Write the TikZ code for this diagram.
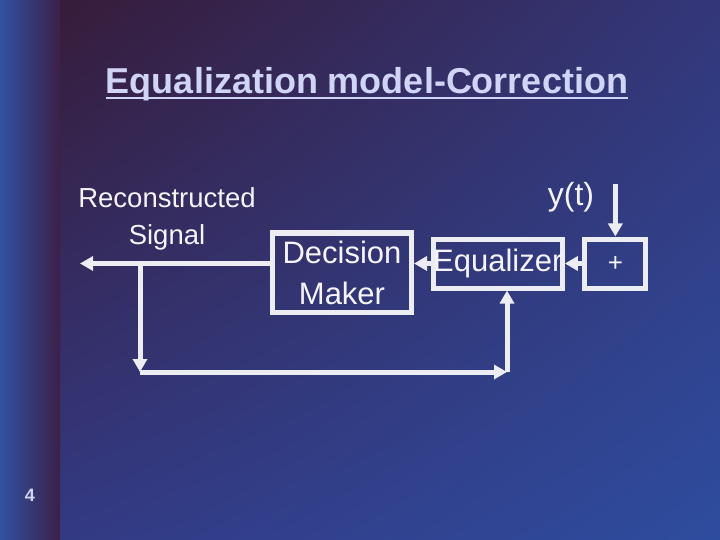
\documentclass[tikz,border=0pt]{standalone}
\usepackage{fontspec}
\setmainfont{Liberation Sans}
\usetikzlibrary{arrows.meta, positioning, shadings}

\definecolor{linecol}{RGB}{236,236,243}
\definecolor{txtcol}{RGB}{244,244,250}
\definecolor{titlecol}{RGB}{208,212,245}
\definecolor{bgul}{RGB}{55,28,58}
\definecolor{bgur}{RGB}{51,55,122}
\definecolor{bgll}{RGB}{51,58,132}
\definecolor{bglr}{RGB}{46,76,158}
\definecolor{strl}{RGB}{47,82,162}
\definecolor{strm}{RGB}{48,74,150}
\definecolor{strr}{RGB}{60,32,72}

\begin{document}
\begin{tikzpicture}[
    x=1pt, y=-1pt,
    blk/.style={rectangle, draw=linecol, line width=5pt, inner sep=0pt, text=txtcol, align=center},
    flow/.style={-{Triangle[length=13pt, width=14pt]}, draw=linecol, line width=5pt},
    lbl/.style={text=txtcol, inner sep=0pt, align=center},
    heading/.style={text=titlecol, inner sep=0pt, font=\fontsize{36}{40}\selectfont\bfseries}
  ]
    \useasboundingbox (0,0) rectangle (720,540);
    % background
    \shade[upper left=bgul, upper right=bgur, lower left=bgll, lower right=bglr] (60,0) rectangle (720,540);
    \shade[left color=strl, middle color=strm, right color=strr] (0,0) rectangle (60,540);

    \node[heading, anchor=base] (ttl) at (367,94) {Equalization model-Correction};
    \draw[titlecol, line width=2.5pt] ([yshift=-4pt]ttl.base west) -- ([yshift=-4pt]ttl.base east);

    \node[blk, minimum width=139pt, minimum height=79.5pt, font=\fontsize{31}{41}\selectfont] (dm) at (342,272.75) {Decision\\Maker};
    \node[blk, minimum width=127.5pt, minimum height=49pt, font=\fontsize{31}{37}\selectfont] (eq) at (497.75,263.5) {Equalizer};
    \node[blk, right=17.5pt of eq, minimum width=61pt, minimum height=49pt, font=\fontsize{26}{30}\selectfont] (sum) {+};

    \node[lbl, font=\fontsize{27.5}{37}\selectfont] (recon) at (167,219) {Reconstructed\\Signal};
    \node[lbl, anchor=base, font=\fontsize{32}{38}\selectfont] (yt) at (571,206) {y(t)};
    \node[text=titlecol, inner sep=0pt, font=\fontsize{18}{20}\selectfont\bfseries] (pg) at (30,495) {4};

    \coordinate (out) at (80,263.5);
    \coordinate (br) at (140,263.5);
    \coordinate (bl) at (140,372);
    \coordinate (fb) at (507,372);
    \coordinate (yin) at ([yshift=52pt]sum.north);

    \draw[flow] (yin) -- (sum.north);
    \draw[flow] (sum.west) -- (eq.east);
    \draw[flow] (eq.west) -- (eq.west -| dm.east);
    \draw[flow] (dm.west |- eq.west) -- (out);
    \draw[flow] (br) -- (bl);
    \draw[flow] (bl) -- (fb);
    \draw[flow] (fb) -- (fb |- eq.south);
\end{tikzpicture}
\end{document}
